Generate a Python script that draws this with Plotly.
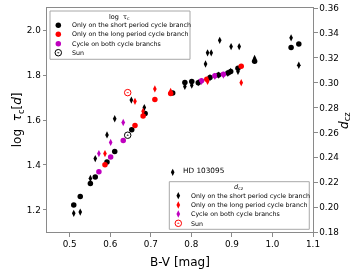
import plotly.graph_objects as go

# ---------------- data ----------------
# short period cycle branch only (black)
bv_short_tau = [0.510, 0.526, 0.551, 0.563, 0.592, 0.611, 0.653, 0.686, 0.754, 0.784,
                0.801, 0.817, 0.846, 0.867, 0.890, 0.897, 0.915, 0.956, 1.046, 1.065]
tau_short = [1.221, 1.258, 1.317, 1.345, 1.412, 1.459, 1.556, 1.629, 1.721, 1.767,
             1.772, 1.766, 1.790, 1.801, 1.810, 1.817, 1.831, 1.862, 1.924, 1.939]
bv_short_dcz = [0.510, 0.526, 0.551, 0.563, 0.592, 0.611, 0.652, 0.684, 0.754, 0.784,
                0.801, 0.817, 0.835, 0.840, 0.846, 0.849, 0.867, 0.870, 0.890, 0.897,
                0.898, 0.915, 0.918, 0.956, 1.046, 1.065]
dcz_short = [0.195, 0.196, 0.223, 0.239, 0.258, 0.271, 0.286, 0.280, 0.228, 0.297,
             0.298, 0.300, 0.315, 0.324, 0.304, 0.324, 0.306, 0.334, 0.3075, 0.309,
             0.329, 0.309, 0.329, 0.3195, 0.336, 0.314]

# long period cycle branch only (red)
bv_long_tau = [0.587, 0.661, 0.681, 0.710, 0.749, 0.838, 0.923]
tau_long = [1.400, 1.575, 1.618, 1.692, 1.718, 1.782, 1.840]
bv_long_dcz = [0.587, 0.661, 0.681, 0.710, 0.749, 0.840, 0.923]
dcz_long = [0.243, 0.285, 0.277, 0.295, 0.293, 0.301, 0.300]

# cycles on both branches (magenta)
bv_both_tau = [0.572, 0.601, 0.632, 0.825, 0.858, 0.879]
tau_both = [1.369, 1.435, 1.509, 1.775, 1.797, 1.804]
bv_both_dcz = [0.572, 0.601, 0.632, 0.825, 0.858, 0.879]
dcz_both = [0.243, 0.252, 0.268, 0.301, 0.305, 0.306]

# Sun
bv_sun = [0.643]
tau_sun = [1.532]
dcz_sun = [0.292]

# annotated star
hd_label = "HD 103095"
hd_bv = 0.775
hd_dcz = 0.2297

legend_labels = ["Only on the short period cycle branch",
                 "Only on the long period cycle branch",
                 "Cycle on both cycle branchs",
                 "Sun"]

x_ticks = [0.5, 0.6, 0.7, 0.8, 0.9, 1.0, 1.1]
tau_ticks = [1.2, 1.4, 1.6, 1.8, 2.0]
dcz_ticks = [0.18, 0.20, 0.22, 0.24, 0.26, 0.28, 0.30, 0.32, 0.34, 0.36]

# ---------------- styling ----------------
FONT = "DejaVu Sans"
BLACK, RED, MAG = "#000000", "#ff0000", "#bf00bf"
SPINE = "#8a8a8a"
CIRC = 5.5
DIAM = 5.2
SUN = 6.5

fig = go.Figure()

def circ(bv, vals, color, sym="circle", size=CIRC, axis="y"):
    fig.add_trace(go.Scatter(
        x=bv, y=vals, mode="markers", yaxis=axis, showlegend=False, hoverinfo="skip",
        marker=dict(symbol=sym, size=size, color=color,
                    line=dict(width=1 if "open" in sym else 0, color=color))))

# log tau (left axis)
circ(bv_short_tau, tau_short, BLACK)
circ(bv_long_tau, tau_long, RED)
circ(bv_both_tau, tau_both, MAG)
circ(bv_sun, tau_sun, BLACK, "circle-open-dot", SUN)
# d_cz (right axis)
circ(bv_short_dcz, dcz_short, BLACK, "diamond-tall", DIAM, "y2")
circ(bv_long_dcz, dcz_long, RED, "diamond-tall", DIAM, "y2")
circ(bv_both_dcz, dcz_both, MAG, "diamond-tall", DIAM, "y2")
circ(bv_sun, dcz_sun, RED, "circle-open-dot", SUN, "y2")

# ---------------- hand-drawn legends (paper fractions of plot area) ----------------
shapes, annotations = [], []

def legend(box, title, title_xy, ys, mx, tx, symbols, colors, sizes):
    x0, x1, y0, y1 = box
    shapes.append(dict(type="rect", xref="paper", yref="paper", x0=x0, x1=x1, y0=y0, y1=y1,
                       line=dict(color="#a8a8a8", width=1), fillcolor="white",
                       layer="below"))
    annotations.append(dict(xref="paper", yref="paper", x=title_xy[0], y=title_xy[1],
                            text=title, showarrow=False, xanchor="center", yanchor="middle",
                            font=dict(family=FONT, size=6.5, color="black")))
    for lab, yy, sym, col, sz in zip(legend_labels, ys, symbols, colors, sizes):
        annotations.append(dict(xref="paper", yref="paper", x=tx, y=yy, text=lab,
                                showarrow=False, xanchor="left", yanchor="middle",
                                font=dict(family=FONT, size=6.3, color="black")))
        fig.add_trace(go.Scatter(
            x=[mx], y=[yy], mode="markers", xaxis="x3", yaxis="y3", showlegend=False,
            hoverinfo="skip",
            marker=dict(symbol=sym, size=sz, color=col,
                        line=dict(width=1 if "open" in sym else 0, color=col))))

legend((0.0113, 0.5376, 0.771, 0.9866), "log  τ<sub>c</sub>", (0.2744, 0.962),
       [0.9228, 0.8826, 0.8406, 0.8004], 0.0425, 0.0865,
       ["circle", "circle", "circle", "circle-open-dot"],
       [BLACK, RED, MAG, BLACK], [CIRC, CIRC, CIRC, SUN])
legend((0.4598, 0.986, 0.012, 0.2246), "<i>d</i><sub>cz</sub>", (0.723, 0.2022),
       [0.162, 0.1205, 0.0804, 0.0388], 0.4936, 0.535,
       ["diamond-tall", "diamond-tall", "diamond-tall", "circle-open-dot"],
       [BLACK, RED, MAG, RED], [DIAM, DIAM, DIAM, SUN])

annotations.append(dict(xref="x", yref="y2", x=hd_bv, y=hd_dcz, text=hd_label,
                        showarrow=False, xanchor="left", yanchor="middle",
                        font=dict(family=FONT, size=7.3, color="black")))

# axis titles placed as annotations for exact placement
TITLE_FONT = dict(family=FONT, size=12, color="black")
annotations.append(dict(xref="paper", yref="paper", x=0.5, y=-0.092, text="B-V [mag]",
                        showarrow=False, xanchor="center", yanchor="top", font=TITLE_FONT))
annotations.append(dict(xref="paper", yref="paper", x=-0.108, y=0.5,
                        text="log  <i>τ</i><sub>c</sub>[<i>d</i>]", textangle=-90,
                        showarrow=False, xanchor="center", yanchor="middle", font=TITLE_FONT))
annotations.append(dict(xref="paper", yref="paper", x=1.12, y=0.5,
                        text="<i>d</i><sub>cz</sub>", textangle=-90,
                        showarrow=False, xanchor="center", yanchor="middle", font=TITLE_FONT))

axis_common = dict(showgrid=False, zeroline=False, showline=True, linecolor=SPINE,
                   linewidth=1, ticks="outside", ticklen=3.5, tickcolor=SPINE, tickwidth=1,
                   automargin=False,
                   tickfont=dict(family=FONT, size=8.8, color="black"))

fig.update_layout(
    width=360, height=270,
    margin=dict(l=47, r=47, t=8, b=38, autoexpand=False),
    paper_bgcolor="white", plot_bgcolor="white",
    font=dict(family=FONT, color="black"),
    showlegend=False, hovermode=False,
    xaxis=dict(range=[0.444, 1.1], tickvals=x_ticks, tickformat=".1f", mirror=True,
               **axis_common),
    yaxis=dict(range=[1.1, 2.1], tickvals=tau_ticks, tickformat=".1f", **axis_common),
    yaxis2=dict(range=[0.18, 0.36], tickvals=dcz_ticks, tickformat=".2f",
                overlaying="y", side="right", **axis_common),
    xaxis3=dict(range=[0, 1], overlaying="x", visible=False, fixedrange=True),
    yaxis3=dict(range=[0, 1], overlaying="y", visible=False, fixedrange=True),
    shapes=shapes, annotations=annotations,
)

post = ("document.body.style.margin='0px';document.body.style.padding='0px';"
        "document.querySelectorAll('.main-svg').forEach(function(s){"
        "s.style.willChange='transform';});")
fig.write_html("out.html", config={"displayModeBar": False, "staticPlot": True},
               post_script=post)
